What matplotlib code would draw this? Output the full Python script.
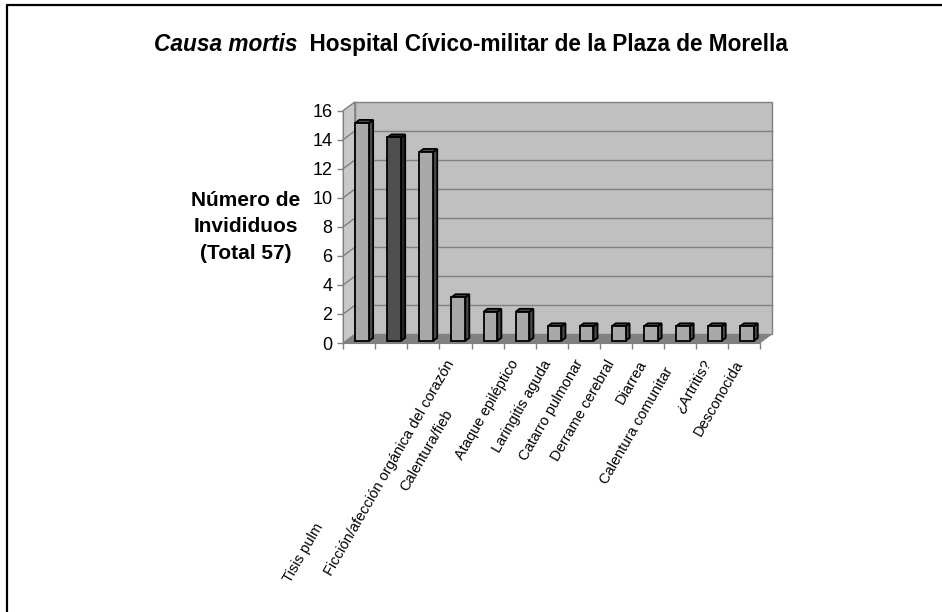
import matplotlib.pyplot as plt
import numpy as np
from matplotlib.patches import Polygon, Rectangle
from matplotlib.lines import Line2D

plt.rcParams["font.family"] = "Liberation Sans"

# data
values = [15, 14, 13, 3, 2, 2, 1, 1, 1, 1, 1, 1, 1]
tick_labels = [
    "Tisis pulm", "", "", "Ficción/afección orgánica del corazón",
    "Calentura/fieb", "Ataque epiléptico", "Laringitis aguda",
    "Catarro pulmonar", "Derrame cerebral", "Diarrea",
    "Calentura comunitar", "¿Artritis?", "Desconocida",
]
dark_bar = 1
y_ticks = [0, 2, 4, 6, 8, 10, 12, 14, 16]

# label layout (pixel offsets from tick centre, as Excel staggered them)
label_shift = {0: (-39, 181), 4: (-38, 68), 10: (-10, 25)}
base_shift = (-4, 18)

# 3D geometry in data units
DX, DY = 0.36, 0.59          # full depth of the floor
F0, F1 = 0.25, 0.60          # bar front / back as fraction of depth
BAR_W = 0.43

WALL = "#c0c0c0"
FLOOR = "#808080"
GRID = "#808080"

fig = plt.figure(figsize=(9.42, 6.12), dpi=100)
ax = fig.add_axes([343.3 / 942, 269 / 612, 416.7 / 942, 232.5 / 612])
ax.set_xlim(-0.5, 12.5)
ax.set_ylim(0, 16)
ax.patch.set_visible(False)
n = len(values)
x = np.arange(n)

# walls and floor
left, right = -0.5, n - 0.5
ax.add_patch(Rectangle((left + DX, DY), n, 16, facecolor=WALL, edgecolor=GRID,
                       lw=1, clip_on=False, zorder=0))
ax.add_patch(Polygon([(left, 0), (left + DX, DY), (left + DX, 16 + DY), (left, 16)],
                     closed=True, facecolor="#c8c8c8", edgecolor=GRID, lw=1,
                     clip_on=False, zorder=0))
ax.add_patch(Polygon([(left, 0), (right, 0), (right + DX, DY), (left + DX, DY)],
                     closed=True, facecolor=FLOOR, edgecolor=FLOOR, lw=0.5,
                     clip_on=False, zorder=1))
for yv in y_ticks[1:-1]:
    ax.plot([left + DX, right + DX], [yv + DY, yv + DY], color=GRID, lw=1,
            clip_on=False, zorder=0.5)
    ax.plot([left, left + DX], [yv, yv + DY], color=GRID, lw=1,
            clip_on=False, zorder=0.5)

# bars: front faces through ax.bar, side and top faces from the same values
fronts = ["#4f4f4f" if i == dark_bar else "#a9a9a9" for i in range(n)]
bars = ax.bar(x + F0 * DX, values, width=BAR_W, bottom=F0 * DY, color=fronts,
              edgecolor="black", linewidth=1.3, zorder=3, clip_on=False)
ddx, ddy = (F1 - F0) * DX, (F1 - F0) * DY
for i, b in enumerate(bars):
    xl = b.get_x()
    xr = xl + b.get_width()
    y0 = b.get_y()
    y1 = y0 + b.get_height()
    side = "#262626" if i == dark_bar else "#4a4a4a"
    top = "#2e2e2e" if i == dark_bar else "#505050"
    ax.add_patch(Polygon([(xr, y0), (xr + ddx, y0 + ddy), (xr + ddx, y1 + ddy), (xr, y1)],
                         closed=True, facecolor=side, edgecolor="black", lw=1.3,
                         zorder=2.5, clip_on=False))
    ax.add_patch(Polygon([(xl, y1), (xr, y1), (xr + ddx, y1 + ddy), (xl + ddx, y1 + ddy)],
                         closed=True, facecolor=top, edgecolor="black", lw=1.3,
                         zorder=2.5, clip_on=False))

# axes
for s in ["top", "right"]:
    ax.spines[s].set_visible(False)
ax.spines["left"].set_color(GRID)
ax.spines["bottom"].set_color(GRID)
ax.spines["left"].set_zorder(4)
ax.set_yticks(y_ticks)
ax.set_yticklabels([str(v) for v in y_ticks], fontsize=13)
ax.set_xticks(np.arange(n + 1) - 0.5)
ax.set_xticklabels([])
ax.tick_params(axis="both", direction="out", color=GRID, length=4.3, width=1)
ax.tick_params(axis="y", pad=3.5)

for i, lab in enumerate(tick_labels):
    if not lab:
        continue
    dx, dy = label_shift.get(i, base_shift)
    ax.annotate(lab, xy=(i, 0), xycoords="data", xytext=(dx, -dy),
                textcoords="offset pixels", rotation=60, rotation_mode="anchor",
                ha="right", va="center", fontsize=10.5, annotation_clip=False)

fig.text(246 / 942, 1 - 227 / 612, "Número de\nInvididuos\n(Total 57)",
         ha="center", va="center", multialignment="center",
         fontsize=15, fontweight="bold", linespacing=1.5)

# title: italic part + upright part
t1 = fig.text(0, 1 - 56 / 612, "Causa mortis", fontsize=16.3, fontweight="bold",
              fontstyle="italic", ha="left", va="bottom")
t2 = fig.text(0, 1 - 56 / 612, "  Hospital Cívico-militar de la Plaza de Morella",
              fontsize=16.3, fontweight="bold", ha="left", va="bottom")
r = fig.canvas.get_renderer()
w1 = t1.get_window_extent(r).width
w2 = t2.get_window_extent(r).width
x0 = (471 - (w1 + w2) / 2) / 942
t1.set_x(x0)
t2.set_x(x0 + w1 / 942)

# frame lines on left and top
fig.add_artist(Line2D([7 / 942, 7 / 942, 1], [0, 1 - 5 / 612, 1 - 5 / 612],
                      color="black", lw=1.6, transform=fig.transFigure))

fig.savefig("out.png", dpi=100)
